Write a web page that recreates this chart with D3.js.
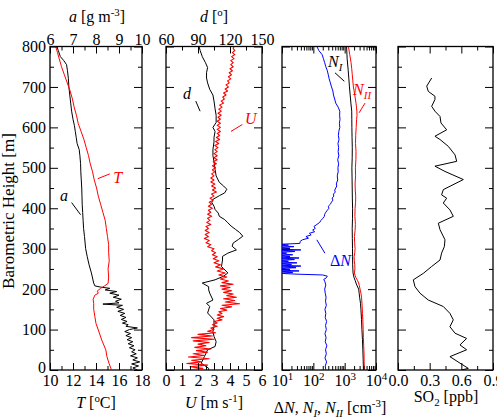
<!DOCTYPE html>
<html>
<head>
<meta charset="utf-8">
<script src="https://cdn.jsdelivr.net/npm/d3@7"></script>
<style>
body { margin: 0; background: #fff; }
text { font-family: "Liberation Serif", "Times New Roman", serif; }
</style>
</head>
<body>
<svg id="chart" width="497" height="420"></svg>
<script>
// profiles: [barometric height (m), value]
const tempT = [[0,15.35],[15,15.15],[33,14.95],[50,14.85],[74,14.5],[99,14.2],[115,14.0],[132,13.9],[150,13.8],[165,13.8],[175,13.75],[185,13.9],[190,14.2],[195,14.1],[202,14.4],[208,14.75],[214,15.05],[230,15.1],[250,15.05],[270,15.15],[290,15.1],[310,15.1],[330,15.0],[350,14.9],[370,14.8],[390,14.6],[410,14.4],[430,14.2],[450,14.05],[470,13.85],[490,13.7],[510,13.5],[530,13.35],[550,13.15],[570,12.95],[590,12.7],[610,12.45],[630,12.3],[650,12.1],[670,11.95],[690,11.75],[710,11.5],[730,11.25],[750,11.0],[770,10.8],[785,10.65],[800,10.5]];

const absA = [[0,9.8],[5,9.6],[10,9.85],[15,9.55],[20,9.9],[25,9.6],[30,9.8],[35,9.5],[40,9.75],[45,9.55],[50,9.7],[55,9.45],[60,9.65],[65,9.4],[70,9.6],[75,9.35],[80,9.55],[85,9.3],[90,9.5],[95,9.25],[100,9.45],[104,9.8],[108,9.3],[112,9.4],[116,9.15],[120,9.35],[125,9.1],[130,9.3],[135,9.05],[140,9.25],[145,8.95],[150,9.2],[155,8.9],[160,9.15],[163,8.3],[166,9.0],[170,8.85],[175,9.1],[180,8.75],[185,9.0],[190,8.6],[194,8.9],[198,8.4],[202,8.6],[205,8.2],[208,7.95],[215,7.9],[225,7.86],[240,7.8],[260,7.7],[280,7.62],[300,7.55],[330,7.5],[350,7.46],[370,7.44],[390,7.42],[410,7.4],[430,7.39],[450,7.38],[470,7.36],[490,7.34],[510,7.33],[530,7.3],[545,7.27],[560,7.18],[575,7.14],[590,7.1],[605,7.06],[620,7.0],[640,6.94],[660,6.9],[680,6.86],[700,6.82],[720,6.8],[740,6.76],[755,6.72],[765,6.6],[775,6.45],[790,6.36],[800,6.3]];

const windU = [[0,1.4],[4,2.3],[8,1.5],[12,2.6],[16,1.3],[20,2.2],[24,1.6],[28,2.7],[32,1.4],[36,2.4],[40,1.7],[44,2.6],[48,1.9],[52,2.8],[56,1.8],[60,2.5],[64,2.0],[68,2.7],[72,1.7],[76,3.0],[80,1.6],[84,2.9],[88,2.0],[92,3.1],[96,2.6],[100,3.0],[104,2.8],[108,3.2],[112,2.9],[116,3.2],[120,3.0],[124,3.5],[128,3.2],[132,3.6],[136,3.2],[140,3.5],[144,3.3],[148,3.8],[152,3.4],[156,4.1],[160,3.5],[164,4.6],[168,3.7],[172,4.3],[176,3.6],[180,4.4],[184,3.8],[188,4.2],[192,3.6],[196,4.1],[200,3.5],[204,4.0],[208,3.4],[212,4.2],[216,3.5],[220,3.9],[225,3.4],[230,3.8],[235,3.3],[240,3.7],[245,3.2],[250,3.6],[255,3.1],[260,3.4],[265,3.0],[270,3.3],[275,2.95],[280,3.2],[285,2.9],[290,3.1],[295,2.85],
	[300,3.0],[305,2.6],[310,2.8],[315,2.5],[320,2.7],[325,2.4],[330,2.65],[335,2.45],[340,2.7],[345,2.45],[350,2.65],[355,2.5],[360,2.8],[365,2.55],[370,2.75],[375,2.6],[380,2.85],[385,2.6],[390,2.8],[395,2.65],[400,2.9],[405,2.65],[410,2.85],[415,2.7],[420,2.95],[425,2.75],[430,3.0],[435,2.85],[440,3.15],[445,2.9],[450,3.1],[455,2.85],[460,3.05],[465,2.8],[470,3.0],[475,2.8],[480,3.0],[485,2.85],[490,3.05],[495,2.9],[500,3.1],[505,2.9],[510,3.15],[515,2.95],[520,3.2],[525,3.0],[530,3.2],[535,3.0],[540,3.2],[545,3.05],[550,3.25],[555,3.05],[560,3.3],[565,3.1],[570,3.35],[575,3.15],[580,3.35],[585,3.2],[590,3.4],[595,3.2],[600,3.4],[605,3.2],[610,3.4],[615,3.2],[620,3.4],[625,3.25],[630,3.45],[635,3.25],[640,3.45],[645,3.3],[650,3.5],[655,3.35],[660,3.6],[665,3.45],[670,3.65],[675,3.55],[680,3.75],[685,3.6],[690,3.85],[695,3.7],[700,3.9],[705,3.75],[710,3.95],[715,3.85],[720,4.05],[725,3.9],[730,4.1],[735,3.95],[740,4.15],[745,4.0],[750,4.2],[755,4.05],[760,4.2],[765,4.05],[770,4.25],[775,4.1],[780,4.3],[785,4.15],[790,4.3],[795,4.2],[800,4.25]];

const windDir = [[0,100],[4,100],[17,93],[33,96],[50,99],[58,106],[70,107],[83,105],[95,104],[107,105],[124,105],[141,99],[157,101],[165,98],[173,104],[190,101],[198,100],[206,100],[215,94],[223,106],[232,114],[240,118],[256,112],[272,113],[281,113],[289,118],[297,126],[306,122],[314,123],[323,128],[331,132],[340,129],[348,125],[356,121],[364,118],[372,115],[380,110],[388,109],[397,106],[405,105],[414,103],[422,104],[431,110],[438,115],[447,117],[455,114],[464,110],[480,107],[496,106],[515,105],[530,104],[545,104],[564,105],[575,105],[590,106],[600,104],[612,107],[630,107],[646,106],[665,105],[680,104],[694,101],[710,99],[722,98],[735,98],[748,99],[760,97],[775,94],[790,92],[800,91]];

const dN = [[0,250],[10,240],[20,265],[30,235],[40,260],[50,245],[60,270],[70,240],[80,255],[90,235],[100,260],[110,245],[120,265],[130,240],[140,250],[150,235],[160,260],[170,245],[180,255],[190,240],[200,230],[210,250],[218,235],[224,215],[228,260],[232,280],[235,200],[237,30],[239,9],[241,22],[243,8],[245,35],[247,9],[249,18],[251,8],[253,28],[255,9],[257,40],[259,10],[261,20],[263,8],[265,30],[267,9],[269,16],[271,8],[273,25],[275,10],[277,35],[279,9],[281,18],[283,8],[285,22],[287,9],[289,14],[291,8],[293,26],[295,10],[297,40],[299,9],[301,18],[303,8],[305,24],[307,10],[309,16],[311,9],[313,37],[318,38],[322,45],[326,70],[330,58],[334,85],[338,75],[342,110],[346,95],[350,115],[355,105],[360,130],[365,160],[370,175],[375,200],[380,225],[385,230],[390,250],[395,280],[400,315],[405,300],[410,350],[415,380],[420,420],[425,400],[430,450],[435,440],[440,500],[445,480],[450,520],[455,560],[460,540],[470,600],[480,580],[490,620],[500,610],[510,640],[520,600],[530,650],[540,620],[550,640],[560,610],[570,660],[580,630],[590,650],[600,700],[610,680],[620,710],[630,690],[640,700],[650,620],[660,520],[670,480],[680,440],[690,420],[700,380],[710,350],[720,320],[730,300],[740,280],[750,250],[760,230],[770,210],[780,190],[790,150],[800,130]];

const nI = [[0,3980],[25,3900],[50,3800],[75,3700],[100,3550],[125,3450],[150,3300],[165,3200],[180,3000],[190,2900],[200,2800],[208,2500],[215,2300],[222,2150],[228,2000],[240,1850],[260,1800],[280,1790],[300,1780],[325,1760],[350,1740],[375,1780],[400,1790],[425,1760],[450,1740],[475,1720],[500,1700],[525,1740],[550,1750],[575,1720],[600,1700],[620,1690],[640,1680],[660,1580],[680,1500],[700,1420],[720,1360],[740,1300],[770,1200],[800,1150]];

const nII = [[0,4250],[20,4180],[40,4150],[60,4050],[80,3950],[100,3900],[120,3820],[140,3700],[160,3600],[180,3450],[190,3300],[200,3100],[208,2950],[215,2800],[222,2550],[228,2300],[234,2150],[240,2050],[250,2120],[260,2100],[270,2030],[280,2000],[290,2100],[300,2150],[315,2080],[330,2050],[345,2150],[360,2200],[380,2120],[400,2150],[415,2230],[430,2250],[445,2180],[460,2150],[480,2230],[500,2200],[520,2280],[540,2300],[560,2220],[580,2250],[600,2330],[620,2400],[630,2480],[640,2450],[650,2380],[660,2300],[670,2200],[680,2100],[690,2000],[700,1900],[715,1820],[730,1750],[745,1680],[760,1600],[780,1450],[800,1320]];

const so2 = [[0,0.6],[4,0.666],[17,0.587],[33,0.492],[50,0.65],[62,0.587],[78,0.65],[91,0.54],[107,0.492],[124,0.524],[140,0.492],[157,0.429],[173,0.287],[190,0.208],[206,0.161],[223,0.145],[239,0.24],[256,0.319],[272,0.398],[289,0.413],[305,0.439],[322,0.445],[347,0.398],[363,0.382],[380,0.524],[396,0.492],[413,0.429],[425,0.461],[433,0.413],[446,0.429],[471,0.619],[491,0.445],[504,0.35],[516,0.556],[532,0.54],[553,0.477],[570,0.398],[578,0.35],[594,0.461],[611,0.407],[627,0.398],[640,0.35],[652,0.319],[669,0.35],[677,0.35],[689,0.287],[702,0.272],[722,0.319]];

// tick labels
const tTicks = [10, 12, 14, 16, 18];
const aTicks = [6, 7, 8, 9, 10];
const uTicks = [0, 1, 2, 3, 4, 5, 6];
const dTicks = [60, 90, 120, 150];
const nTicks = [10, 100, 1000, 10000];
const so2Ticks = [0, 0.3, 0.6, 0.9];
const hTicks = [0, 100, 200, 300, 400, 500, 600, 700, 800];

const svg = d3.select('#chart');
const FONT = '"Liberation Serif", "Times New Roman", serif';
const yTop = 46.5, yBottom = 370;

const y = d3.scaleLinear().domain([0, 800]).range([yBottom, yTop]);

const xT = d3.scaleLinear().domain([10, 18]).range([50, 142]);
const xA = d3.scaleLinear().domain([6, 10]).range([50, 142]);
const xU = d3.scaleLinear().domain([0, 6]).range([166, 262]);
const xD = d3.scaleLinear().domain([60, 150]).range([166, 262]);
const xN = d3.scaleLog().domain([10, 10000]).range([282, 376]);
const xS = d3.scaleLinear().domain([0, 0.9]).range([398, 493]);

function halves(ticks) {
	let out = [];
	for (let i = 0; i < ticks.length - 1; i++) out.push((ticks[i] + ticks[i + 1]) / 2);
	return out;
}
const logMinor = [];
[10, 100, 1000].forEach(b => { for (let k = 2; k < 10; k++) logMinor.push(b * k); });

function styleAxis(g) {
	g.attr('font-family', FONT).attr('font-size', 16);
	g.select('.domain').remove();
	g.selectAll('.tick line').attr('stroke', '#000').attr('stroke-width', 1);
	g.selectAll('.tick text').attr('fill', '#000');
}

function hAxis(scale, majors, minors, side, fmt) {
	let mk = side === 'bottom' ? d3.axisBottom : d3.axisTop;
	let yy = side === 'bottom' ? yBottom : yTop;
	let g = svg.append('g').attr('transform', `translate(0,${yy})`)
		.call(mk(scale).tickValues(majors).tickSize(-7).tickPadding(side === 'bottom' ? 5 : 2)
			.tickFormat(fmt || (() => '')));
	styleAxis(g);
	let g2 = svg.append('g').attr('transform', `translate(0,${yy})`)
		.call(mk(scale).tickValues(minors).tickSize(-4).tickFormat(() => ''));
	styleAxis(g2);
	return g;
}

function vAxes(x0, x1, labels) {
	let minors = halves(hTicks);
	let gl = svg.append('g').attr('transform', `translate(${x0},0)`)
		.call(d3.axisLeft(y).tickValues(hTicks).tickSize(-8).tickPadding(4)
			.tickFormat(labels ? d3.format('d') : () => ''));
	styleAxis(gl);
	// the "0" sits just above the first bottom tick label
	gl.selectAll('.tick text').filter(d => d === 0).attr('dy', '0.15em');
	styleAxis(svg.append('g').attr('transform', `translate(${x0},0)`)
		.call(d3.axisLeft(y).tickValues(minors).tickSize(-4).tickFormat(() => '')));
	styleAxis(svg.append('g').attr('transform', `translate(${x1},0)`)
		.call(d3.axisRight(y).tickValues(hTicks).tickSize(-8).tickFormat(() => '')));
	styleAxis(svg.append('g').attr('transform', `translate(${x1},0)`)
		.call(d3.axisRight(y).tickValues(minors).tickSize(-4).tickFormat(() => '')));
}

function frame(x0, x1, id) {
	svg.append('clipPath').attr('id', id).append('rect')
		.attr('x', x0).attr('y', yTop).attr('width', x1 - x0).attr('height', yBottom - yTop);
	svg.append('rect').attr('x', x0).attr('y', yTop).attr('width', x1 - x0).attr('height', yBottom - yTop)
		.attr('fill', 'none').attr('stroke', '#000').attr('stroke-width', 1.3);
}

function profile(data, xs, color, clip, width) {
	let line = d3.line().x(d => xs(d[1])).y(d => y(d[0]));
	svg.append('path').datum(data).attr('d', line)
		.attr('fill', 'none').attr('stroke', color).attr('stroke-width', width || 1)
		.attr('stroke-linejoin', 'round').attr('clip-path', `url(#${clip})`);
}

// rich text: parts = [{t, i, sup, sub}]
function rich(x, yy, parts, opts) {
	opts = opts || {};
	let t = svg.append('text').attr('x', x).attr('y', yy)
		.attr('text-anchor', opts.anchor || 'middle')
		.attr('font-family', FONT).attr('font-size', opts.size || 16)
		.attr('fill', opts.color || '#000');
	if (opts.rotate) t.attr('transform', `rotate(-90,${x},${yy})`);
	let cur = 0;
	parts.forEach(p => {
		let target = p.sup ? -6 : (p.sub ? 4 : 0);
		let s = t.append('tspan').text(p.t).attr('dy', target - cur);
		cur = target;
		if (p.i) s.attr('font-style', 'italic');
		if (p.sup || p.sub) s.attr('font-size', (opts.size || 16) * 0.68);
	});
	return t;
}

function leader(x1, y1, x2, y2, color) {
	svg.append('line').attr('x1', x1).attr('y1', y1).attr('x2', x2).attr('y2', y2)
		.attr('stroke', color).attr('stroke-width', 1);
}

// ---------- panel 1: T and a
frame(50, 142, 'c1');
profile(absA, xA, '#000', 'c1');
profile(tempT, xT, '#ff0000', 'c1');
hAxis(xT, tTicks, halves(tTicks), 'bottom', d3.format('d'));
hAxis(xA, aTicks, halves(aTicks), 'top', d3.format('d'));
vAxes(50, 142, true);
rich(96, 408, [{t: 'T', i: 1}, {t: ' ['}, {t: 'o', sup: 1}, {t: 'C]'}]);
rich(97, 22, [{t: 'a', i: 1}, {t: ' [g m'}, {t: '-3', sup: 1}, {t: ']'}]);
rich(xT(15.5), y(463), [{t: 'T', i: 1}], {anchor: 'start', color: '#ff0000'});
leader(xT(14.15), y(473), xT(15.2), y(485), '#ff0000');
rich(xA(6.43), y(419), [{t: 'a', i: 1}], {anchor: 'start'});
leader(xA(6.94), y(414), xA(7.33), y(384), '#000');

// ---------- panel 2: U and d
frame(166, 262, 'c2');
profile(windDir, xD, '#000', 'c2');
profile(windU, xU, '#ff0000', 'c2', 1.1);
hAxis(xU, uTicks, halves(uTicks), 'bottom', d3.format('d'));
hAxis(xD, dTicks, halves(dTicks), 'top', d3.format('d'));
vAxes(166, 262, false);
rich(214, 408, [{t: 'U', i: 1}, {t: ' [m s'}, {t: '-1', sup: 1}, {t: ']'}]);
rich(214, 22, [{t: 'd', i: 1}, {t: ' ['}, {t: 'o', sup: 1}, {t: ']'}]);
rich(xU(1.06), y(671), [{t: 'd', i: 1}], {anchor: 'start'});
leader(xU(1.86), y(665), xU(2.13), y(640), '#000');
rich(xU(4.94), y(609), [{t: 'U', i: 1}], {anchor: 'start', color: '#ff0000'});
leader(xU(4.06), y(590), xU(4.77), y(607), '#ff0000');

// ---------- panel 3: dN, N_I, N_II
frame(282, 376, 'c3');
profile(nI, xN, '#000', 'c3');
profile(nII, xN, '#ff0000', 'c3');
profile(dN, xN, '#0000ff', 'c3');
let gN = hAxis(xN, nTicks, logMinor, 'bottom', d => 'x');
gN.selectAll('.tick text').each(function (d) {
	let t = d3.select(this).text(null);
	t.append('tspan').text('10');
	t.append('tspan').text(Math.round(Math.log10(d))).attr('dy', -6).attr('font-size', 11);
});
hAxis(xN, nTicks, logMinor, 'top');
vAxes(282, 376, false);
rich(330, 413, [{t: 'Δ'}, {t: 'N', i: 1}, {t: ', '}, {t: 'N', i: 1}, {t: 'I', i: 1, sub: 1}, {t: ', '},
	{t: 'N', i: 1}, {t: 'II', i: 1, sub: 1}, {t: ' [cm'}, {t: '-3', sup: 1}, {t: ']'}]);
rich(xN(295), y(750), [{t: 'N', i: 1}, {t: 'I', i: 1, sub: 1}], {anchor: 'start'});
leader(xN(490), y(735), xN(975), y(714), '#000');
rich(xN(1860), y(679), [{t: 'N', i: 1}, {t: 'II', i: 1, sub: 1}], {anchor: 'start', color: '#ff0000'});
leader(xN(4470), y(660), xN(2880), y(636), '#ff0000');
rich(xN(340), y(258), [{t: 'Δ'}, {t: 'N', i: 1}], {anchor: 'start', color: '#0000ff'});
leader(xN(129), y(322), xN(234), y(289), '#0000ff');

// ---------- panel 4: SO2
frame(398, 493, 'c4');
profile(so2, xS, '#000', 'c4');
hAxis(xS, so2Ticks, halves(so2Ticks), 'bottom', d3.format('.1f'));
hAxis(xS, so2Ticks, halves(so2Ticks), 'top');
vAxes(398, 493, false);
rich(446, 402, [{t: 'SO'}, {t: '2', sub: 1}, {t: ' [ppb]'}]);

// y label
rich(14, 211, [{t: 'Barometric Height [m]'}], {rotate: true, size: 17});
</script>
</body>
</html>
